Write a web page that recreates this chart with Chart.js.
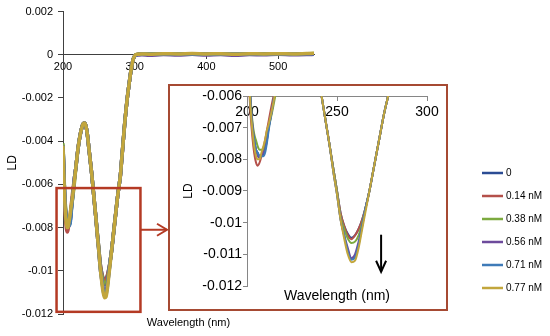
<!DOCTYPE html>
<html><head><meta charset="utf-8">
<script src="https://cdn.jsdelivr.net/npm/chart.js@4"></script>
<style>
html,body{margin:0;padding:0;background:#fff;}
#wrap{position:relative;width:550px;height:336px;overflow:hidden;}
#main{position:absolute;left:0;top:0;}
#insetBox{position:absolute;left:168px;top:84px;width:280px;height:227px;box-sizing:border-box;border:2px solid #A64A33;background:#fff;}
#inset{display:block;}
</style></head><body>
<div id="wrap">
<canvas id="main" width="550" height="336"></canvas>
<div id="insetBox"><canvas id="inset" width="276" height="223"></canvas></div>
</div>
<script>
// ---- data ----
const wavelength = [200,201,202,203,204,205,206,207,208,209,210,211,212,
  214,216,218,220,222,224,226,228,230,232,234,236,238,240,242,244,246,248,250,
  252,254,256,258,260,262,264,266,268,
  270,272,274,276,278,280,282,284,286,288,290,292,294,296,298,300,
  302,305,310,320,340,360,380,400,420,440,460,480,500,520,540,550];

const ld0 = [-0.0042,-0.0052,-0.0062,-0.0070,-0.0074,-0.0077,-0.0078,-0.0079,-0.0079,-0.00785,-0.0077,-0.0074,-0.0070,
  -0.0064,-0.0057,-0.0052,-0.0046,-0.0041,-0.0037,-0.0034,-0.0032,-0.00318,-0.0033,-0.0037,-0.0043,-0.0049,-0.0055,-0.0062,-0.0069,-0.0076,-0.0083,-0.0090,
  -0.0097,-0.0101,-0.01035,-0.01048,-0.0104,-0.0102,-0.0099,-0.0095,-0.0090,
  -0.0084,-0.0078,-0.0072,-0.0066,-0.0061,-0.0056,-0.0048,-0.0040,-0.0032,-0.0025,-0.0019,-0.0014,-0.0009,-0.0005,-0.0002,-0.00005,
  0.00001,0.00002,0.00003,0.00002,0.00004,0.00003,0.00004,0.00003,0.00004,0.00002,0.00004,0.00003,0.00004,0.00003,0.00005,0.00005];

const ld014 = [-0.0043,-0.0055,-0.0066,-0.0073,-0.0078,-0.0081,-0.0082,-0.0081,-0.0079,-0.0077,-0.0074,-0.0071,-0.0068,
  -0.0062,-0.0057,-0.0052,-0.0046,-0.0041,-0.0037,-0.0034,-0.0032,-0.00317,-0.0033,-0.0037,-0.0043,-0.0049,-0.0055,-0.0062,-0.0069,-0.0076,-0.0083,-0.0090,
  -0.0097,-0.0101,-0.0104,-0.01052,-0.0104,-0.0102,-0.0099,-0.0095,-0.0090,
  -0.0084,-0.0078,-0.0072,-0.0066,-0.0061,-0.0056,-0.0048,-0.0040,-0.0032,-0.0025,-0.0019,-0.0014,-0.0009,-0.0005,-0.0002,-0.00005,
  0.00000,0.00002,0.00002,0.00003,0.00003,0.00002,0.00004,0.00003,0.00003,0.00002,0.00003,0.00004,0.00003,0.00003,0.00004,0.00004];

const ld038 = [-0.0041,-0.0051,-0.0061,-0.0068,-0.0072,-0.0074,-0.0076,-0.0077,-0.0077,-0.0077,-0.0076,-0.0073,-0.0070,
  -0.0065,-0.0059,-0.0052,-0.0046,-0.0041,-0.0037,-0.0034,-0.0032,-0.00316,-0.0033,-0.0037,-0.0043,-0.0049,-0.0055,-0.0062,-0.0069,-0.0076,-0.0083,-0.0090,
  -0.0098,-0.0102,-0.0105,-0.01064,-0.0106,-0.0104,-0.0100,-0.0095,-0.0090,
  -0.0084,-0.0078,-0.0072,-0.0066,-0.0061,-0.0056,-0.0048,-0.0040,-0.0032,-0.0025,-0.0019,-0.0014,-0.0009,-0.0005,-0.0002,-0.00005,
  0.00001,0.00003,0.00003,0.00004,0.00003,0.00004,0.00005,0.00003,0.00004,0.00003,0.00004,0.00004,0.00005,0.00003,0.00005,0.00006];

const ld056 = [-0.0042,-0.0052,-0.0062,-0.0069,-0.0074,-0.0077,-0.0079,-0.00795,-0.0079,-0.0078,-0.0077,-0.0074,-0.0070,
  -0.0064,-0.0057,-0.0052,-0.0046,-0.0041,-0.0037,-0.0034,-0.0032,-0.00316,-0.0033,-0.0037,-0.0043,-0.0049,-0.0055,-0.0062,-0.0069,-0.0076,-0.0084,-0.0091,
  -0.0099,-0.0104,-0.0108,-0.01112,-0.0110,-0.0106,-0.0101,-0.0095,-0.0090,
  -0.0084,-0.0078,-0.0072,-0.0066,-0.0061,-0.0056,-0.0048,-0.0040,-0.0032,-0.0025,-0.0019,-0.0014,-0.0009,-0.0005,-0.0002,-0.00006,
  -0.00002,-0.00001,0.00000,-0.00002,0.00001,-0.00001,0.00002,-0.00001,0.00001,-0.00002,0.00001,0.00000,0.00002,0.00000,0.00001,0.00002];

const ld071 = [-0.0042,-0.0052,-0.0062,-0.0070,-0.0074,-0.0077,-0.0078,-0.0079,-0.0079,-0.0079,-0.0078,-0.0075,-0.0071,
  -0.0064,-0.0057,-0.0052,-0.0046,-0.0041,-0.0037,-0.0034,-0.0032,-0.00316,-0.0033,-0.0037,-0.0043,-0.0049,-0.0055,-0.0062,-0.0069,-0.0076,-0.0084,-0.0091,
  -0.0099,-0.0104,-0.0109,-0.01117,-0.0111,-0.0107,-0.0101,-0.0095,-0.0090,
  -0.0084,-0.0078,-0.0072,-0.0066,-0.0061,-0.0056,-0.0048,-0.0040,-0.0032,-0.0025,-0.0019,-0.0014,-0.0009,-0.0005,-0.0002,-0.00005,
  0.00000,0.00002,0.00003,0.00002,0.00004,0.00003,0.00004,0.00002,0.00004,0.00003,0.00004,0.00003,0.00004,0.00003,0.00005,0.00005];

const ld077 = [-0.0042,-0.0054,-0.0064,-0.0071,-0.0076,-0.0079,-0.0080,-0.0080,-0.0078,-0.0076,-0.0074,-0.0071,-0.0069,
  -0.0064,-0.0058,-0.0052,-0.0046,-0.0041,-0.0037,-0.0034,-0.0032,-0.00316,-0.0033,-0.0037,-0.0043,-0.0049,-0.0055,-0.0062,-0.0069,-0.0076,-0.0084,-0.0091,
  -0.0099,-0.0105,-0.0110,-0.01125,-0.0112,-0.0108,-0.0102,-0.0096,-0.0090,
  -0.0084,-0.0078,-0.0072,-0.0066,-0.0061,-0.0056,-0.0048,-0.0040,-0.0032,-0.0025,-0.0019,-0.0014,-0.0009,-0.0005,-0.0002,-0.00005,
  0.00001,0.00003,0.00004,0.00003,0.00005,0.00004,0.00006,0.00004,0.00005,0.00003,0.00005,0.00004,0.00005,0.00004,0.00006,0.00007];

const seriesLabels = ['0','0.14 nM','0.38 nM','0.56 nM','0.71 nM','0.77 nM'];
const seriesColors = ['#2B4C94','#B4504A','#7CAA3F','#6D4B9C','#3F7BB8','#C2A63C'];
const allSeries = [ld0, ld014, ld038, ld056, ld071, ld077];

const xTicksMain = [200,300,400,500];
const yTicksMain = [0.002,0,-0.002,-0.004,-0.006,-0.008,-0.01,-0.012];
const xTicksInset = [200,250,300];
const yTicksInset = [-0.006,-0.007,-0.008,-0.009,-0.01,-0.011,-0.012];

// zoom box (data coords) and inset arrow (data coords)
const zoomBoxX = [191, 308];
const zoomBoxY = [-0.00617, -0.0119];
const zoomArrowY = -0.0081;
const trendArrowX = 274.5;
const trendArrowY = [-0.01038, -0.01155];

// ---- chart ----
Chart.defaults.font.family = "'Liberation Sans', Arial, sans-serif";
Chart.defaults.color = '#000';

const fmt = v => String(Number(Number(v).toFixed(3)));

function makeDatasets(width) {
  return allSeries.map((s, i) => ({
    label: seriesLabels[i],
    data: s.map((v, j) => ({x: wavelength[j], y: v})),
    borderColor: seriesColors[i],
    backgroundColor: seriesColors[i],
    borderWidth: width,
    pointRadius: 0,
    cubicInterpolationMode: 'monotone',
    order: allSeries.length - 1 - i,
    fill: false
  }));
}

const mainDecor = {
  id: 'mainDecor',
  afterDraw(chart) {
    const {ctx, scales: {x, y}} = chart;
    ctx.save();
    const bx1 = x.getPixelForValue(zoomBoxX[0]), bx2 = x.getPixelForValue(zoomBoxX[1]);
    const by1 = y.getPixelForValue(zoomBoxY[0]), by2 = y.getPixelForValue(zoomBoxY[1]);
    ctx.strokeStyle = '#B43A24';
    ctx.lineWidth = 2.5;
    ctx.strokeRect(bx1, by1, bx2 - bx1, by2 - by1);
    const ay = y.getPixelForValue(zoomArrowY);
    ctx.lineWidth = 2;
    ctx.beginPath(); ctx.moveTo(bx2, ay); ctx.lineTo(167, ay); ctx.stroke();
    ctx.beginPath(); ctx.moveTo(157, ay - 6); ctx.lineTo(167, ay); ctx.lineTo(157, ay + 6); ctx.stroke();
    // legend
    ctx.font = "10px 'Liberation Sans', Arial, sans-serif";
    ctx.textBaseline = 'middle';
    ctx.textAlign = 'left';
    chart.data.datasets.forEach((ds, i) => {
      const ly = 173 + 23 * i;
      ctx.strokeStyle = ds.borderColor;
      ctx.lineWidth = 2.5;
      ctx.beginPath(); ctx.moveTo(482, ly); ctx.lineTo(503, ly); ctx.stroke();
      ctx.fillStyle = '#000';
      ctx.fillText(ds.label, 506, ly);
    });
    ctx.restore();
  }
};

const insetDecor = {
  id: 'insetDecor',
  afterDraw(chart) {
    const {ctx, scales: {x, y}} = chart;
    const ax = x.getPixelForValue(trendArrowX);
    const y1 = y.getPixelForValue(trendArrowY[0]), y2 = y.getPixelForValue(trendArrowY[1]);
    ctx.save();
    ctx.strokeStyle = '#000';
    ctx.lineWidth = 2;
    ctx.beginPath(); ctx.moveTo(ax, y1); ctx.lineTo(ax, y2); ctx.stroke();
    ctx.beginPath(); ctx.moveTo(ax - 5, y2 - 11); ctx.lineTo(ax, y2); ctx.lineTo(ax + 5, y2 - 11); ctx.stroke();
    ctx.restore();
  }
};

new Chart(document.getElementById('main'), {
  type: 'line',
  data: {datasets: makeDatasets(3.5)},
  options: {
    responsive: false, animation: false, devicePixelRatio: 1,
    layout: {padding: {left: 0, top: 10, right: 236, bottom: 0}},
    plugins: {legend: {display: false}, tooltip: {enabled: false}},
    scales: {
      x: {
        type: 'linear', min: 200, max: 550, position: {y: 0},
        afterBuildTicks: s => { s.ticks = xTicksMain.map(v => ({value: v})); },
        ticks: {font: {size: 11}, color: '#000', padding: 2, maxRotation: 0, autoSkip: false},
        grid: {display: true, drawOnChartArea: false, drawTicks: true, tickLength: 4, color: '#404040'},
        border: {display: true, color: '#404040', width: 1}
      },
      x2: {
        type: 'linear', min: 200, max: 550, position: 'bottom',
        ticks: {display: false}, grid: {display: false}, border: {display: false},
        title: {display: true, text: 'Wavelength (nm)', font: {size: 11}, color: '#000', padding: {top: 0, bottom: 6}},
        afterFit: s => { s.height = 22; }
      },
      y: {
        type: 'linear', min: -0.012, max: 0.002, position: 'left',
        afterBuildTicks: s => { s.ticks = yTicksMain.map(v => ({value: v})); },
        afterFit: s => { s.width = 63; },
        ticks: {font: {size: 11}, color: '#000', padding: 5, callback: fmt, autoSkip: false},
        grid: {display: true, drawOnChartArea: false, drawTicks: true, tickLength: 5, color: '#404040'},
        border: {display: true, color: '#404040'},
        title: {display: true, text: 'LD', font: {size: 12}, color: '#000', padding: {top: 5, bottom: 0}}
      }
    }
  },
  plugins: [mainDecor]
});

new Chart(document.getElementById('inset'), {
  type: 'line',
  data: {datasets: makeDatasets(2)},
  options: {
    responsive: false, animation: false, devicePixelRatio: 1,
    layout: {padding: {left: 0, top: 10, right: 19, bottom: 0}},
    plugins: {legend: {display: false}, tooltip: {enabled: false}},
    scales: {
      x: {
        type: 'linear', min: 200, max: 300, position: {y: -0.006},
        afterBuildTicks: s => { s.ticks = xTicksInset.map(v => ({value: v})); },
        ticks: {font: {size: 14}, color: '#000', padding: 4, maxRotation: 0, autoSkip: false},
        grid: {display: true, drawOnChartArea: false, drawTicks: true, tickLength: 4, color: '#868686'},
        border: {display: true, color: '#868686', width: 1}
      },
      x2: {
        type: 'linear', min: 200, max: 300, position: 'bottom',
        ticks: {display: false}, grid: {display: false}, border: {display: false},
        title: {display: true, text: 'Wavelength (nm)', font: {size: 14}, color: '#000', padding: {top: 0, bottom: 4}},
        afterFit: s => { s.height = 23; }
      },
      y: {
        type: 'linear', min: -0.012, max: -0.006, position: 'left',
        afterBuildTicks: s => { s.ticks = yTicksInset.map(v => ({value: v})); },
        afterFit: s => { s.width = 77; },
        ticks: {font: {size: 14}, color: '#000', padding: 1, callback: fmt, autoSkip: false},
        grid: {display: true, drawOnChartArea: false, drawTicks: true, tickLength: 4, color: '#868686'},
        border: {display: true, color: '#868686'},
        title: {display: true, text: 'LD', font: {size: 12}, color: '#000', padding: {top: 11, bottom: 0}}
      }
    }
  },
  plugins: [insetDecor]
});
</script>
</body></html>
